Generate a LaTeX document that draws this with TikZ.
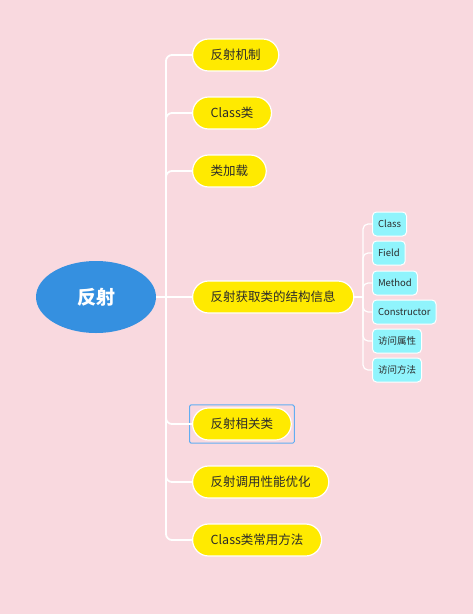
\documentclass[tikz,border=0pt]{standalone}
\usepackage{fontspec}
\newfontfamily\cjk{Noto Sans CJK SC}
\usetikzlibrary{shapes.geometric, shapes.misc, fit}
\definecolor{bgpink}{HTML}{F9D9DF}
\definecolor{rootblue}{HTML}{3590E0}
\definecolor{topicyellow}{HTML}{FFEA00}
\definecolor{subcyan}{HTML}{90F4FC}
\definecolor{txtgray}{HTML}{2B2B2B}
\definecolor{selblue}{HTML}{62AEF2}

\begin{document}
\begin{tikzpicture}[x=1pt, y=-1pt, font=\cjk,
  rootnode/.style={ellipse, fill=rootblue, minimum width=120pt, minimum height=72pt,
    text=white, font=\cjk\bfseries\fontsize{19}{19}\selectfont},
  topic/.style={rounded rectangle, fill=topicyellow, draw=white, line width=1.2pt,
    minimum height=32pt, inner xsep=17pt, anchor=west, text=txtgray,
    font=\cjk\fontsize{12.5}{12.5}\selectfont},
  subtopic/.style={rectangle, rounded corners=4pt, fill=subcyan, draw=white, line width=1pt,
    minimum height=24pt, inner xsep=5.5pt, anchor=west, text=txtgray,
    font=\cjk\fontsize{9.5}{9.5}\selectfont},
  link/.style={draw=white, line width=1.8pt, rounded corners=6pt},
  sublink/.style={draw=white, line width=1.2pt, rounded corners=5pt},
  selbox/.style={draw=selblue, line width=1pt, rounded corners=1.5pt, inner sep=2.5pt}]
  \fill[bgpink] (0,0) rectangle (473,614);
  \useasboundingbox (0,0) rectangle (473,614);

  % root
  \node[rootnode] (root) at (96,297) {反射};

  % main topics
  \node[topic] (mech) at (192,55) {反射机制};
  \node[topic] (cls) at (192,113) {Class类};
  \node[topic] (load) at (192,171) {类加载};
  \node[topic] (info) at (192,297) {反射获取类的结构信息};
  \node[topic] (rel) at (192,424) {反射相关类};
  \node[topic] (perf) at (192,482) {反射调用性能优化};
  \node[topic] (meth) at (192,540) {Class类常用方法};
  \node[selbox, fit=(rel)] (sel) {};

  % sub topics of info
  \node[subtopic] (sclass) at (372,224) {Class};
  \node[subtopic] (sfield) at (372,253) {Field};
  \node[subtopic] (smethod) at (372,283) {Method};
  \node[subtopic] (scons) at (372,312) {Constructor};
  \node[subtopic] (sattr) at (372,341) {访问属性};
  \node[subtopic] (scall) at (372,370) {访问方法};

  % connectors
  \coordinate (hub) at (166,297);
  \draw[link] (root.east) -- (hub) -- (info.west);
  \foreach \n in {mech, cls, load, rel, perf, meth}
    \draw[link] (hub) |- (\n.west);

  \coordinate (subhub) at (363,297);
  \draw[sublink] (info.east) -- (subhub);
  \foreach \n in {sclass, sfield, smethod, scons, sattr, scall}
    \draw[sublink] (subhub) |- (\n.west);
\end{tikzpicture}
\end{document}
